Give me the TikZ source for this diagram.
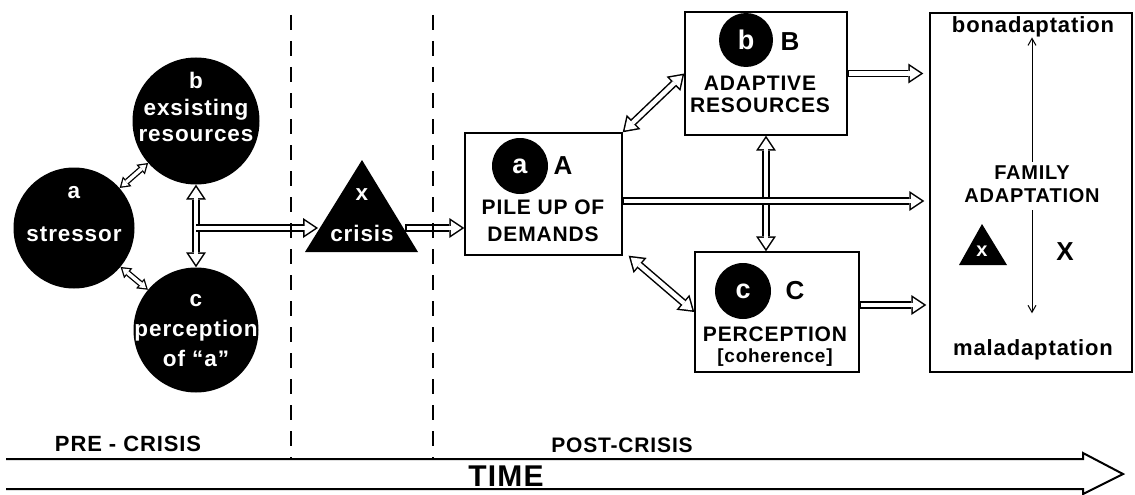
\documentclass[tikz,border=0pt]{standalone}
\usepackage{fontspec}
\setmainfont{Liberation Sans}[LetterSpace=4]
\usetikzlibrary{arrows.meta}

\tikzset{
  bighead/.tip={Triangle[length=15pt 0 0,width=20pt 0 0,line width=0pt 0 0]},
  holehead/.tip={Triangle[length=10.8pt 0 0,width=14.4pt 0 0,line width=0pt 0 0]},
  smhead/.tip={Triangle[length=10pt 0 0,width=13pt 0 0,line width=0pt 0 0]},
  smhole/.tip={Triangle[length=6.3pt 0 0,width=8.2pt 0 0,line width=0pt 0 0]},
  flow/.style={line width=7.5pt,-bighead,
    postaction={draw=white,line width=4.5pt,shorten <=1.5pt,shorten >=2.7pt,-holehead}},
  branch/.style={line width=7.5pt,-bighead,
    postaction={draw=white,line width=4.5pt,shorten >=2.7pt,-holehead}},
  twoway/.style={line width=7.5pt,bighead-bighead,
    postaction={draw=white,line width=4.5pt,shorten <=2.7pt,shorten >=2.7pt,holehead-holehead}},
  twowaysm/.style={line width=6pt,smhead-smhead,
    postaction={draw=white,line width=3.4pt,shorten <=2.4pt,shorten >=2.4pt,smhole-smhole}},
  disc/.style={circle,fill=black,inner sep=0pt},
  wtxt/.style={text=white,inner sep=0pt,font=\bfseries\fontsize{22.5}{24}\selectfont},
  wbig/.style={text=white,inner sep=0pt,font=\bfseries\fontsize{27}{29}\selectfont},
  btxt/.style={inner sep=0pt,font=\bfseries\fontsize{21}{23}\selectfont},
  bbig/.style={inner sep=0pt,font=\bfseries\fontsize{26}{28}\selectfont},
  box/.style={draw,line width=1.4pt,inner sep=0pt},
  divider/.style={line width=1.3pt,dash pattern=on 15pt off 11pt},
  thinarrow/.style={line width=1pt,-{Straight Barb[length=7pt,width=8pt]}}
}

\begin{document}
\begin{tikzpicture}[x=1pt,y=-1pt]
  \useasboundingbox (0,0) rectangle (1135,495);

  % pre-crisis
  \node[disc,minimum size=121pt] (stressor) at (74,228) {};
  \node[wtxt] (stressorA) at (74,193) {a};
  \node[wtxt] (stressorT) at (74,234) {stressor};
  \node[disc,minimum size=127pt] (exres) at (196,121) {};
  \node[wtxt] (exresB) at (196,80) {b};
  \node[wtxt] (exresT1) at (196,110) {exsisting};
  \node[wtxt] (exresT2) at (196,136) {resources};
  \node[disc,minimum size=125pt] (percep) at (196,330) {};
  \node[wtxt] (percepC) at (196,301) {c};
  \node[wtxt] (percepT1) at (196,331) {perception};
  \node[wtxt] (percepT2) at (196,358) {of “a”};

  \draw[twowaysm] (stressor) -- (exres);
  \draw[twowaysm] (stressor) -- (percep);
  \draw[twoway] (exres) -- (percep);

  % crisis
  \fill (362,160) coordinate (crisistop) -- (305,252) -- (418,252) -- cycle;
  \coordinate (crisisin) at (318,228);
  \coordinate (crisisout) at (405,228);
  \node[wtxt] (crisisX) at (362,195) {x};
  \node[wtxt] (crisisT) at (362,233) {crisis};
  \coordinate (fork) at (196,228);
  \draw[branch] (fork) -- (crisisin);

  % post-crisis boxes
  \node[box,minimum width=157pt,minimum height=122pt] (pile) at (543.5,194) {};
  \node[disc,minimum size=56pt] (pileD) at (520,166) {};
  \node[wbig] (pileL) at (520,166) {a};
  \node[bbig] (pileA) at (563,166) {A};
  \node[btxt] (pileT1) at (543,207) {PILE UP OF};
  \node[btxt] (pileT2) at (543,234) {DEMANDS};

  \node[box,minimum width=162pt,minimum height=123pt] (adapt) at (766,73.5) {};
  \node[disc,minimum size=54pt] (adaptD) at (746,40) {};
  \node[wbig] (adaptL) at (746,40) {b};
  \node[bbig] (adaptB) at (790,42) {B};
  \node[btxt] (adaptT1) at (760,83) {ADAPTIVE};
  \node[btxt] (adaptT2) at (760,105) {RESOURCES};

  \node[box,minimum width=164pt,minimum height=120pt] (coh) at (777,312) {};
  \node[disc,minimum size=56pt] (cohD) at (743,291) {};
  \node[wbig] (cohL) at (743,291) {c};
  \node[bbig] (cohC) at (795,291) {C};
  \node[btxt] (cohT1) at (775,334) {PERCEPTION};
  \node[btxt,font=\bfseries\fontsize{19}{21}\selectfont] (cohT2) at (775,358) {[coherence]};

  \node[box,minimum width=202pt,minimum height=359pt] (family) at (1031,192.5) {};
  \node[btxt,font=\bfseries\fontsize{22}{24}\selectfont] (bona) at (1033,27) {bonadaptation};
  \node[btxt,font=\bfseries\fontsize{22}{24}\selectfont] (mala) at (1033,350) {maladaptation};
  \node[btxt,font=\bfseries\fontsize{20}{22}\selectfont] (famT1) at (1032,173) {FAMILY};
  \node[btxt,font=\bfseries\fontsize{20}{22}\selectfont] (famT2) at (1032,196) {ADAPTATION};
  \draw[thinarrow] (famT1.north) ++(0,-4) coordinate (upfoot) -- (upfoot |- bona.south);
  \draw[thinarrow] (famT2.south) ++(0,7) coordinate (downfoot) -- ++(0,103);
  \fill (982,224) coordinate (famtri) -- (959,265) -- (1007,265) -- cycle;
  \node[wtxt,font=\bfseries\fontsize{20}{22}\selectfont] (famX) at (982,251) {x};
  \node[bbig] (famXX) at (1065,252) {X};

  \draw[flow] (crisisout) -- (crisisout -| pile.west);
  \draw[twoway] (pile.north east) -- (adapt.west);
  \draw[twoway] ([xshift=6pt]pile.south east) -- (coh.west);
  \draw[twoway] (adapt.south) -- (adapt.south |- coh.north);
  \coordinate (pilemid) at (622,201);
  \draw[flow] (pilemid) -- ([xshift=-5pt]pilemid -| family.west);
  \draw[flow] (adapt.east) -- ([xshift=-6pt]adapt.east -| family.west);
  \coordinate (cohmid) at (859,305);
  \draw[flow] (cohmid) -- ([xshift=-3pt]cohmid -| family.west);

  % time
  \coordinate (timeup) at (6,459);
  \coordinate (timelow) at (6,489);
  \coordinate (pretop) at (291,15);
  \coordinate (posttop) at (433,15);
  \draw[divider] (pretop) -- (pretop |- timeup);
  \draw[divider] (posttop) -- (posttop |- timeup);
  \draw[line width=2pt,line join=miter] (timeup) -- (1083,459) -- (1083,453) -- (1123,474) -- (1083,494) -- (1083,489) -- (timelow);
  \node[btxt,font=\bfseries\fontsize{22}{24}\selectfont] (prelbl) at (128,444) {PRE - CRISIS};
  \node[btxt,font=\bfseries\fontsize{21}{23}\selectfont] (postlbl) at (622,445) {POST-CRISIS};
  \node[btxt,font=\bfseries\fontsize{30}{32}\selectfont] (timelbl) at (506,476) {TIME};
\end{tikzpicture}
\end{document}
